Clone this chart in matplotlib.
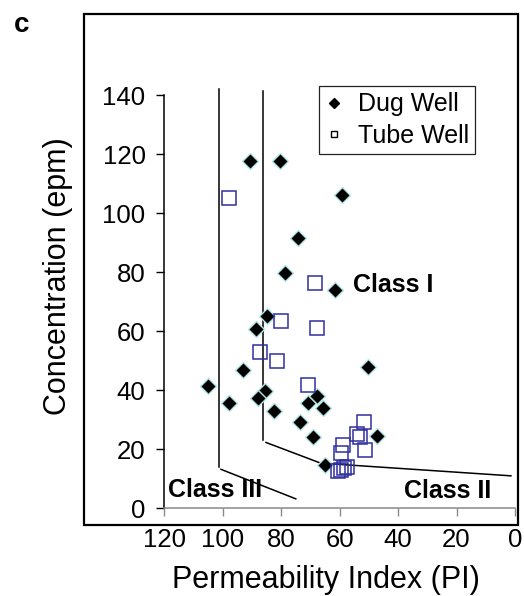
import matplotlib
matplotlib.use("Agg")
import matplotlib.pyplot as plt
from matplotlib.lines import Line2D
from matplotlib.patches import Rectangle

plt.rcParams['font.family'] = ['Liberation Sans', 'DejaVu Sans']

# Dug well (filled diamonds)
dug_pi = [90.6, 80.3, 59.2, 74.1, 78.6, 61.5, 84.7, 88.5, 92.9, 105.2, 98.0,
          85.5, 87.8, 82.3, 70.7, 67.8, 65.7, 73.7, 69.2, 64.9, 47.3, 50.2]
dug_conc = [117.7, 117.7, 106.2, 91.4, 79.8, 73.9, 65.1, 60.8, 46.7, 41.5, 35.7,
            39.8, 37.4, 32.8, 35.7, 37.9, 34.0, 29.1, 24.1, 14.7, 24.6, 47.8]

# Tube well (open squares)
tube_pi = [97.8, 68.4, 80.0, 67.8, 87.4, 81.5, 70.9, 51.5, 54.0, 53.0, 51.3,
           58.7, 59.6, 60.5, 59.5, 58.5, 57.5]
tube_conc = [105.0, 76.2, 63.6, 61.1, 53.0, 49.8, 41.9, 29.4, 25.0, 24.0, 19.6,
             21.5, 18.9, 12.8, 13.0, 13.5, 14.0]

# Class boundary lines
b1_vert_x = [101.2, 101.2]
b1_vert_y = [142.1, 14.1]
b1_diag_x = [100.6, 75.0]
b1_diag_y = [13.2, 3.2]
b2_vert_x = [86.1, 86.1]
b2_vert_y = [141.2, 23.0]
b2_slope_x = [85.2, 66.5, 1.4]
b2_slope_y = [22.3, 15.3, 11.0]

x_ticks = [120, 100, 80, 60, 40, 20, 0]
y_ticks = [0, 20, 40, 60, 80, 100, 120, 140]

W, H = 524, 596
fig = plt.figure(figsize=(W / 100, H / 100), dpi=100)
ax = fig.add_axes([164.3 / W, (H - 508.3) / H, (515 - 164.3) / W, (508.3 - 95) / H])

ax.set_xlim(120, 0)
ax.set_ylim(0, 140)

lk = dict(color='black', lw=1.1, clip_on=False, zorder=2)
ax.plot(b1_vert_x, b1_vert_y, **lk)
ax.plot(b1_diag_x, b1_diag_y, **lk)
ax.plot(b2_vert_x, b2_vert_y, **lk)
ax.plot(b2_slope_x, b2_slope_y, **lk)

ax.plot(dug_pi, dug_conc, linestyle='none', marker='D', ms=8.4, mfc='black',
        mec='#b5e6e6', mew=1.0, zorder=3, clip_on=False)
ax.plot(tube_pi, tube_conc, linestyle='none', marker='s', ms=10.3, mfc='none',
        mec='#2f2fa0', mew=1.1, zorder=4, clip_on=False)

ax.text(55.4, 75.5, 'Class I', fontsize=18, fontweight='bold', ha='left', va='center')
ax.text(118.7, 6.2, 'Class III', fontsize=18, fontweight='bold', ha='left', va='center')
ax.text(38.0, 5.7, 'Class II', fontsize=18, fontweight='bold', ha='left', va='center')

ax.set_xticks(x_ticks)
ax.set_yticks(y_ticks)
ax.tick_params(axis='y', direction='out', length=5.5, width=1, color='black',
               labelsize=18.5, pad=8)
ax.tick_params(axis='x', direction='out', length=6, width=1, color='#8a8a8a',
               labelsize=18.5, pad=8)

for s in ['top', 'right']:
    ax.spines[s].set_visible(False)
ax.spines['left'].set_linewidth(1.1)
ax.spines['left'].set_color('black')
ax.spines['bottom'].set_linewidth(1.1)
ax.spines['bottom'].set_color('#8a8a8a')

ax.set_xlabel('Permeability Index (PI)', fontsize=22)
ax.xaxis.label.set_va('baseline')
ax.xaxis.set_label_coords((326 - 164.3) / 350.7, (508.3 - 588) / 413.3)
ax.set_ylabel('Concentration (epm)', fontsize=22)
ax.yaxis.label.set_va('center')
ax.yaxis.set_label_coords((58 - 164.3) / 350.7, (508.3 - 276) / 413.3)

handles = [
    Line2D([], [], linestyle='none', marker='D', ms=5.5, mfc='black', mec='black'),
    Line2D([], [], linestyle='none', marker='s', ms=4.8, mfc='none', mec='black', mew=1),
]
leg = ax.legend(handles, ['Dug Well', 'Tube Well'], loc='upper right',
                bbox_to_anchor=((475 - 164.3) / 350.7, (508.3 - 86) / 413.3),
                borderaxespad=0, fontsize=18, frameon=True, fancybox=False,
                edgecolor='#222222', framealpha=1, handlelength=0.7,
                handletextpad=0.6, borderpad=0.25, labelspacing=0.3)
leg.get_frame().set_linewidth(0.9)

fig.add_artist(Rectangle((84 / W, (H - 525) / H), (518 - 84) / W, (525 - 14) / H,
                         transform=fig.transFigure, fill=False, lw=1.6,
                         edgecolor='black'))
fig.text(14 / W, (H - 32) / H, 'c', fontsize=20, fontweight='bold',
         ha='left', va='baseline')

fig.savefig('out.png', dpi=100)
